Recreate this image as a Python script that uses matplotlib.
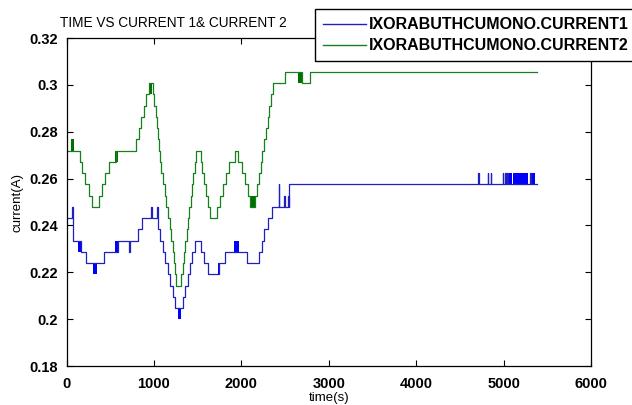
import matplotlib
matplotlib.use("Agg")
import matplotlib.pyplot as plt

plt.rcParams['font.family'] = ['Liberation Sans', 'DejaVu Sans']

title = "TIME VS CURRENT 1& CURRENT 2"
series_names = ["IXORABUTHCUMONO.CURRENT1", "IXORABUTHCUMONO.CURRENT2"]
x_label = "time(s)"
y_label = "current(A)"
x_ticks = [0, 1000, 2000, 3000, 4000, 5000, 6000]
y_ticks = [0.18, 0.20, 0.22, 0.24, 0.26, 0.28, 0.30, 0.32]
y_tick_labels = ["0.18", "0.2", "0.22", "0.24", "0.26", "0.28", "0.3", "0.32"]

# CURRENT1 (blue): change points (time s, current A), step-wise
c1_t = [0, 64, 70, 162, 227, 430, 585, 719, 724, 816, 865, 969, 974, 1040, 1045,
        1073, 1102, 1131, 1160, 1188, 1217, 1240, 1335, 1353, 1385, 1411, 1431,
        1469, 1538, 1577, 1623, 1739, 1815, 2065, 2207, 2238, 2261, 2308, 2354,
        2430, 2435, 2490, 2495, 2535, 2540, 2550, 4711, 4716, 4822, 4827, 4851,
        4856, 4991, 4996, 5017, 5022, 5044, 5049, 5303, 5308, 5380]
c1_v = [0.2431, 0.2479, 0.2335, 0.2287, 0.2239, 0.2287, 0.2335, 0.2287, 0.2335,
        0.2383, 0.2431, 0.2479, 0.2431, 0.2479, 0.2383, 0.2335, 0.2287, 0.2239,
        0.2191, 0.2143, 0.2095, 0.2047, 0.2095, 0.2143, 0.2191, 0.2239, 0.2287,
        0.2335, 0.2287, 0.2239, 0.2191, 0.2239, 0.2287, 0.2239, 0.2287, 0.2335,
        0.2383, 0.2431, 0.2479, 0.2575, 0.2479, 0.2527, 0.2479, 0.2527, 0.2479,
        0.2575, 0.2623, 0.2575, 0.2623, 0.2575, 0.2623, 0.2575, 0.2623, 0.2575,
        0.2623, 0.2575, 0.2623, 0.2575, 0.2623, 0.2575, 0.2575]
# CURRENT1 rapid-toggle bands: start, end, low, high
c1_band_t0 = [135, 303, 557, 1277, 1731, 1912, 5066, 5105, 5322]
c1_band_t1 = [162, 354, 597, 1315, 1746, 1976, 5094, 5284, 5360]
c1_band_lo = [0.2287, 0.2191, 0.2287, 0.1999, 0.2191, 0.2287, 0.2575, 0.2575, 0.2575]
c1_band_hi = [0.2335, 0.2239, 0.2335, 0.2047, 0.2239, 0.2335, 0.2623, 0.2623, 0.2623]

# CURRENT2 (green)
c2_t = [0, 150, 180, 215, 255, 297, 373, 404, 442, 488, 565, 796, 827, 854, 881,
        912, 943, 989, 1005, 1020, 1033, 1046, 1055, 1065, 1085, 1104, 1123, 1142,
        1162, 1181, 1200, 1215, 1230, 1245, 1258, 1315, 1330, 1345, 1360, 1375,
        1390, 1405, 1420, 1435, 1450, 1465, 1480, 1535, 1555, 1575, 1595, 1615,
        1642, 1719, 1757, 1789, 1823, 1854, 1923, 1962, 2008, 2039, 2077, 2104,
        2162, 2182, 2202, 2222, 2242, 2262, 2282, 2302, 2322, 2342, 2362, 2500,
        2692, 2786, 5380]
c2_v = [0.2719, 0.2671, 0.2623, 0.2575, 0.2527, 0.2479, 0.2527, 0.2575, 0.2623,
        0.2671, 0.2719, 0.2767, 0.2815, 0.2863, 0.2911, 0.2959, 0.3007, 0.2959,
        0.2911, 0.2863, 0.2815, 0.2767, 0.2719, 0.2671, 0.2623, 0.2575, 0.2527,
        0.2479, 0.2431, 0.2383, 0.2335, 0.2287, 0.2239, 0.2191, 0.2143, 0.2191,
        0.2239, 0.2287, 0.2335, 0.2383, 0.2431, 0.2479, 0.2527, 0.2575, 0.2623,
        0.2671, 0.2719, 0.2671, 0.2623, 0.2575, 0.2527, 0.2479, 0.2431, 0.2479,
        0.2527, 0.2575, 0.2623, 0.2671, 0.2719, 0.2671, 0.2623, 0.2575, 0.2527,
        0.2479, 0.2527, 0.2575, 0.2623, 0.2671, 0.2719, 0.2767, 0.2815, 0.2863,
        0.2911, 0.2959, 0.3007, 0.3055, 0.3007, 0.3055, 0.3055]
c2_band_t0 = [46, 555, 950, 2110, 2645]
c2_band_t1 = [84, 590, 980, 2160, 2692]
c2_band_lo = [0.2719, 0.2671, 0.2959, 0.2479, 0.3007]
c2_band_hi = [0.2767, 0.2719, 0.3007, 0.2527, 0.3055]

blue = "#2020c0"
green = "#15801c"

fig = plt.figure(figsize=(6.32, 4.05), dpi=100)
ax = fig.add_axes([66.5 / 632, 1 - 366 / 405, (591 - 66.5) / 632, (366 - 38) / 405])

l1, = ax.plot(c1_t, c1_v, drawstyle="steps-post", color=blue, lw=0.9)
l2, = ax.plot(c2_t, c2_v, drawstyle="steps-post", color=green, lw=0.9)
for t0, t1, lo, hi in zip(c1_band_t0, c1_band_t1, c1_band_lo, c1_band_hi):
    ax.fill_between([t0, t1], [lo, lo], [hi, hi], color="#0000ff", lw=0)
for t0, t1, lo, hi in zip(c2_band_t0, c2_band_t1, c2_band_lo, c2_band_hi):
    ax.fill_between([t0, t1], [lo, lo], [hi, hi], color="#007000", lw=0)

ax.set_xlim(0, 6000)
ax.set_ylim(0.18, 0.32)
ax.set_xticks(x_ticks)
ax.set_xticklabels([str(v) for v in x_ticks])
ax.set_yticks(y_ticks)
ax.set_yticklabels(y_tick_labels)
ax.tick_params(direction="in", length=4, width=0.8, top=True, right=True,
               labelsize=10.5)
ax.tick_params(axis="x", pad=8)
ax.tick_params(axis="y", pad=6)
for lab in ax.get_xticklabels() + ax.get_yticklabels():
    lab.set_fontweight("bold")
for s in ax.spines.values():
    s.set_linewidth(0.9)

ax.set_xlabel(x_label, fontsize=9.5, labelpad=1)
ax.set_ylabel(y_label, fontsize=9.5, labelpad=4)

fig.text(60 / 632, 1 - 23 / 405, title, fontsize=9.8, ha="left", va="center")

leg = fig.legend([l1, l2], series_names, loc="upper left",
                 bbox_to_anchor=(315 / 632, 1 - 9.3 / 405), borderaxespad=0,
                 prop={"weight": "bold", "size": 11.5}, frameon=True, fancybox=False,
                 edgecolor="black", framealpha=1, handlelength=2.7,
                 handletextpad=0.2, labelspacing=0.38, borderpad=0.5)
leg.get_frame().set_linewidth(1.0)
for ln in leg.get_lines():
    ln.set_linewidth(1.0)

fig.savefig("out.png", dpi=100)
